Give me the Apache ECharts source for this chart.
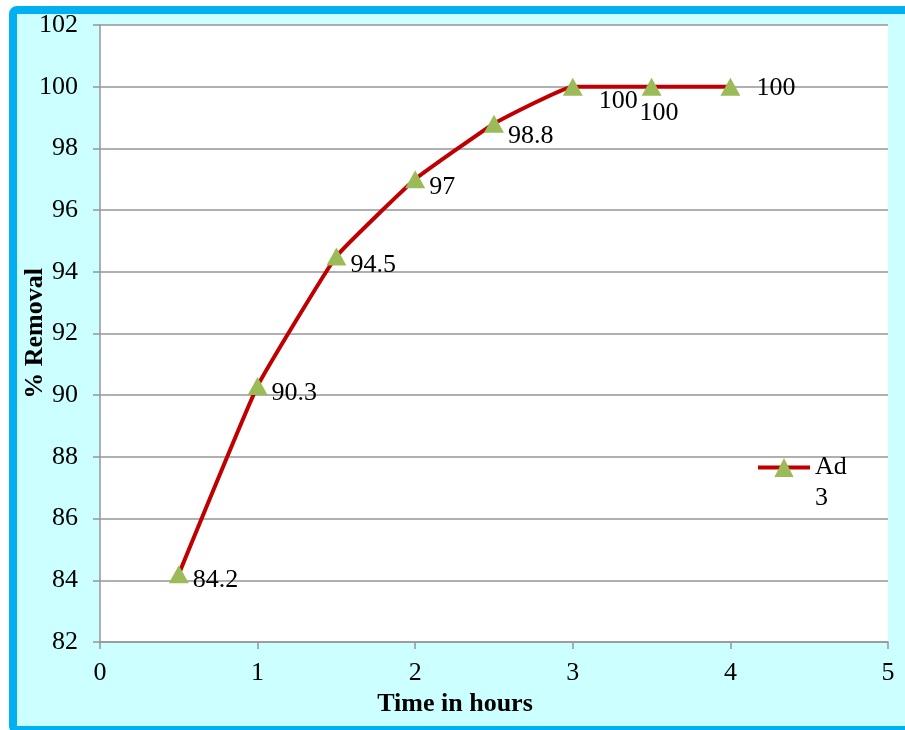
<!DOCTYPE html>
<html>
<head>
<meta charset="utf-8">
<script src="https://cdn.jsdelivr.net/npm/echarts@6/dist/echarts.min.js"></script>
<style>html,body{margin:0;padding:0;background:#fff}#c{width:905px;height:730px}</style>
</head>
<body>
<div id="c"></div>
<script>
const hours = [0.5, 1, 1.5, 2, 2.5, 3, 3.5, 4];
const removal = [84.2, 90.3, 94.5, 97, 98.8, 100, 100, 100];
const seriesName = 'Ad 3';
const yTicks = {min: 82, max: 102, interval: 2};
const xTicks = {min: 0, max: 5, interval: 1};
// label offsets (style only)
const labelOffsets = [[0,6],[0,7],[0,9],[0,8],[0,12],[12,14],[-26,26],[12,1]];

const font = '"Liberation Serif", "Times New Roman", serif';
const chart = echarts.init(document.getElementById('c'));
const data = hours.map((h, i) => ({
  value: [h, removal[i]],
  label: {offset: labelOffsets[i]}
}));
chart.setOption({
  animation: false,
  backgroundColor: '#ffffff',
  graphic: [{
    type: 'rect', z: -10, silent: true,
    shape: {x: 13, y: 10, width: 930, height: 720, r: 4},
    style: {fill: '#ccffff', stroke: '#00b0f0', lineWidth: 8}
  }],
  grid: {left: 100, right: 17, top: 25, bottom: 88, show: true, backgroundColor: '#ffffff', borderWidth: 0, outerBoundsMode: 'none', containLabel: false},
  legend: {
    left: 756, top: 421, padding: 0,
    itemWidth: 52, itemHeight: 24, itemGap: 0,
    formatter: () => '\nAd\n3',
    lineStyle: {width: 4, color: '#c00000'},
    textStyle: {fontFamily: font, fontSize: 26, color: '#000', lineHeight: 31},
    data: [seriesName]
  },
  xAxis: {
    type: 'value', min: xTicks.min, max: xTicks.max, interval: xTicks.interval,
    name: 'Time in hours', nameLocation: 'middle', nameGap: 49, nameMoveOverlap: false,
    nameTextStyle: {fontFamily: font, fontSize: 26, fontWeight: 'bold', color: '#000', padding: [0, 78, 0, 0]},
    axisLine: {show: true, lineStyle: {color: '#969696', width: 1.5}},
    axisTick: {show: true, length: 7, lineStyle: {color: '#969696', width: 1.5}},
    axisLabel: {fontFamily: font, fontSize: 26, color: '#000', margin: 18},
    splitLine: {show: false}
  },
  yAxis: {
    type: 'value', min: yTicks.min, max: yTicks.max, interval: yTicks.interval,
    name: '% Removal', nameLocation: 'middle', nameGap: 52, nameRotate: 90, nameMoveOverlap: false,
    nameTextStyle: {fontFamily: font, fontSize: 26, fontWeight: 'bold', color: '#000'},
    axisLine: {show: true, lineStyle: {color: '#969696', width: 1.5}},
    axisTick: {show: true, length: 7, lineStyle: {color: '#969696', width: 1.5}},
    axisLabel: {fontFamily: font, fontSize: 26, color: '#000', margin: 22},
    splitLine: {show: true, lineStyle: {color: '#969696', width: 1.5}}
  },
  series: [{
    name: seriesName, type: 'line', data: data,
    smooth: 0.1,
    symbol: 'triangle', symbolSize: [20, 18],
    lineStyle: {color: '#c00000', width: 4},
    itemStyle: {color: '#9bbb59', borderWidth: 0},
    label: {show: true, position: 'right', distance: 4, fontFamily: font, fontSize: 26, color: '#000'}
  }]
});
</script>
</body>
</html>
